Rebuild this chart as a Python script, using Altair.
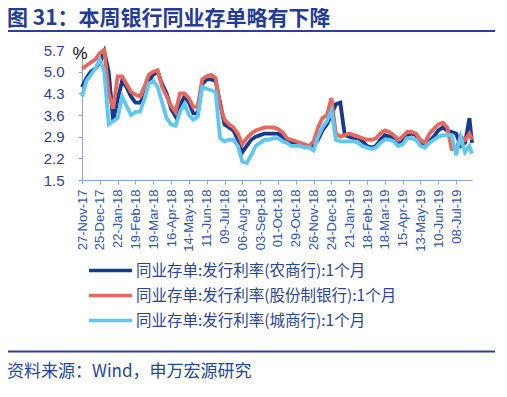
import altair as alt
import pandas as pd

# ---------------- data ----------------
dates = list(pd.date_range("2017-11-27", periods=88, freq="7D").strftime("%Y-%m-%d")) + ["2019-08-02"]

names = [
    "同业存单:发行利率(农商行):1个月",
    "同业存单:发行利率(股份制银行):1个月",
    "同业存单:发行利率(城商行):1个月",
]
colors = ["#173A8E", "#E8685E", "#5EC8F3"]

rural = [4.5, 4.8, 5.0, 5.1, 5.3, 5.65, 5.0, 3.4, 4.1, 4.7,
         4.5, 4.2, 4.0, 4.0, 4.2, 4.7, 4.9, 5.0, 4.6, 4.3,
         3.8, 3.55, 3.9, 4.2, 4.0, 3.65, 3.65, 4.6, 4.75, 4.75,
         4.7, 4.0, 3.3, 3.2, 3.1, 2.8, 2.4, 2.6, 2.8, 2.9,
         2.95, 3.0, 3.0, 3.0, 3.0, 2.9, 2.8, 2.7, 2.7, 2.65,
         2.6, 2.6, 2.6, 2.8, 3.1, 3.3, 3.6, 3.95, 4.0, 2.95,
         2.9, 2.85, 2.85, 2.75, 2.6, 2.55, 2.6, 2.8, 2.95, 2.9,
         2.85, 2.65, 2.75, 2.95, 3.0, 2.95, 2.7, 2.65, 2.75, 2.9,
         3.1, 3.2, 3.1, 3.05, 3.0, 2.6, 2.7, 3.5, 2.7]

joint = [5.1, 5.2, 5.3, 5.4, 5.6, 5.7, 4.3, 3.8, 4.85, 4.85,
         4.6, 4.35, 4.25, 4.2, 4.5, 4.9, 5.0, 5.05, 4.5, 4.2,
         3.9, 3.7, 4.3, 4.3, 4.15, 3.85, 3.9, 4.75, 4.85, 4.9,
         4.8, 3.9, 3.45, 3.3, 3.2, 3.0, 2.65, 2.85, 3.0, 3.1,
         3.15, 3.2, 3.2, 3.2, 3.15, 3.05, 2.85, 2.8, 2.75, 2.7,
         2.65, 2.6, 2.75, 3.2, 3.5, 3.6, 4.15, 3.0, 2.9, 2.95,
         3.0, 2.95, 2.9, 2.85, 2.8, 2.8, 2.85, 3.0, 3.1, 3.05,
         2.95, 2.8, 2.9, 3.05, 3.05, 3.0, 2.8, 2.7, 3.0, 3.15,
         3.3, 3.35, 3.2, 2.5, 2.5, 2.9, 2.8, 3.0, 2.8]

city = [4.2, 4.7, 4.9, 5.1, 5.4, 5.0, 3.3, 3.4, 3.5, 4.2,
        3.9, 3.6, 3.7, 3.7, 4.1, 4.6, 4.7, 4.5, 4.0, 3.5,
        3.3, 3.25, 3.7, 3.95, 3.6, 3.45, 3.55, 4.5, 4.45, 4.4,
        4.35, 2.85, 2.75, 2.8, 2.8, 2.6, 2.1, 2.05, 2.3, 2.6,
        2.7, 2.8, 2.8, 2.85, 2.85, 2.75, 2.7, 2.6, 2.6, 2.6,
        2.55, 2.55, 2.45, 2.9, 3.2, 3.4, 3.75, 2.8, 2.75, 2.75,
        2.75, 2.75, 2.7, 2.6, 2.55, 2.5, 2.55, 2.7, 2.8, 2.8,
        2.75, 2.6, 2.65, 2.85, 2.85, 2.8, 2.6, 2.55, 2.7, 2.8,
        2.9, 2.95, 2.95, 2.95, 2.3, 2.9, 2.4, 2.6, 2.35]

y_ticks = [1.5, 2.2, 2.9, 3.6, 4.3, 5.0, 5.7]
tick_dates = list(pd.date_range("2017-11-27", periods=22, freq="28D"))

title_text = "图 31：本周银行同业存单略有下降"
source_text = "资料来源：Wind，申万宏源研究"

# ---------------- build ----------------
rows = []
for name, vals in zip(names, [rural, joint, city]):
    for d, v in zip(dates, vals):
        rows.append({"date": d, "series": name, "value": v})
df = pd.DataFrame(rows)

blue_txt = "#2B4593"
axis_col = "#8EA2D4"

x_values = [alt.DateTime(year=d.year, month=d.month, date=d.day, utc=True) for d in tick_dates]

lines = alt.Chart(df).mark_line(strokeWidth=3.8).encode(
    x=alt.X(
        "date:T",
        scale=alt.Scale(
            type="utc",
            domain=[alt.DateTime(year=2017, month=11, date=27, utc=True),
                    alt.DateTime(year=2019, month=8, date=2, utc=True)],
        ),
        axis=alt.Axis(
            values=x_values, format="%d-%b-%y", labelAngle=-90, title=None,
            grid=False, labelFontSize=13, labelFont="Liberation Sans",
            labelColor="#2F55B0", domainColor=axis_col, tickColor=axis_col,
            tickSize=4, labelPadding=5, labelOverlap=False, labelFlush=False,
        ),
    ),
    y=alt.Y(
        "value:Q",
        scale=alt.Scale(domain=[1.5, 5.7], nice=False, zero=False),
        axis=alt.Axis(
            values=y_ticks, format=".1f", title=None, grid=False,
            labelFontSize=15, labelFont="Liberation Sans", labelColor=blue_txt,
            domainColor=axis_col, tickColor=axis_col, tickSize=4, labelPadding=14,
        ),
    ),
    color=alt.Color(
        "series:N",
        sort=names,
        scale=alt.Scale(domain=names, range=colors),
        legend=alt.Legend(
            title=None, orient="none", legendX=16, legendY=208, direction="vertical",
            symbolType="M-2,0H2", symbolSize=462, symbolStrokeWidth=3.5,
            labelFontSize=15.5, labelFont="Noto Sans CJK SC", labelColor=blue_txt,
            rowPadding=4, labelOffset=13, labelLimit=400,
        ),
    ),
    order=alt.Order("date:T"),
)

pct = alt.Chart(pd.DataFrame({"t": ["%"]})).mark_text(
    fontSize=17, font="Liberation Sans", color="#111111", align="center", baseline="middle"
).encode(text="t:N", x=alt.value(-2), y=alt.value(4))

title = alt.Chart(pd.DataFrame({"t": [title_text]})).mark_text(
    fontSize=21, font="Noto Sans CJK SC", fontWeight="bold", color="#243C95",
    align="left", baseline="middle"
).encode(text="t:N", x=alt.value(-75), y=alt.value(-31))

title_rule = alt.Chart(pd.DataFrame({"a": [0]})).mark_rule(
    color="#2E3E9A", strokeWidth=2
).encode(x=alt.value(-75), x2=alt.value(413), y=alt.value(-19))

foot_rule = alt.Chart(pd.DataFrame({"a": [0]})).mark_rule(
    color="#2E3E9A", strokeWidth=2
).encode(x=alt.value(-75), x2=alt.value(413), y=alt.value(301.5))

source = alt.Chart(pd.DataFrame({"t": [source_text]})).mark_text(
    fontSize=17, font="Noto Sans CJK SC", color="#24479A",
    align="left", baseline="middle"
).encode(text="t:N", x=alt.value(-75), y=alt.value(322))

chart = alt.layer(lines, pct, title, title_rule, foot_rule, source).properties(
    width=390,
    height=130,
    autosize=alt.AutoSizeParams(type="none"),
    padding={"left": 74, "top": 42, "right": 25, "bottom": 205},
).configure_view(stroke=None)

chart.save("out.html", embed_options={"renderer": "svg", "actions": False})
